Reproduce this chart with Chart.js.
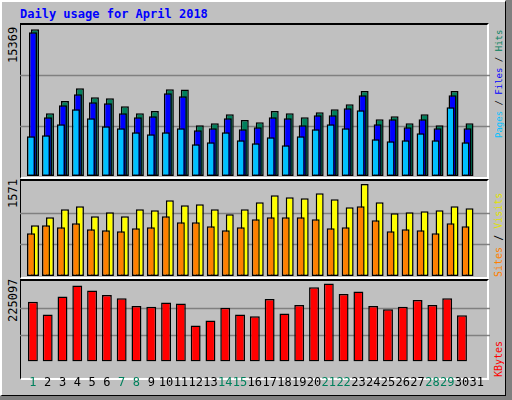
<!DOCTYPE html>
<html><head><meta charset="utf-8">
<script src="https://cdn.jsdelivr.net/npm/chart.js@4"></script>
<style>
html,body{margin:0;padding:0;}
body{width:512px;height:400px;background:#808080;position:relative;overflow:hidden;font-family:"DejaVu Sans Mono",monospace;}
#bg{position:absolute;left:0;top:0;width:503px;height:393px;background:#C0C0C0;border-left:2px solid #fff;border-top:2px solid #fff;border-right:1px solid #000;border-bottom:1px solid #000;}
.frame{position:absolute;left:20px;width:469px;border-top:2px solid #000;border-left:1px solid #000;border-right:2px solid #fff;border-bottom:2px solid #fff;box-sizing:border-box;}
.cv{position:absolute;left:20px;width:470px;}
.rot{position:absolute;transform-origin:0 0;transform:rotate(-90deg);white-space:nowrap;font-size:12px;line-height:12px;}
#title{position:absolute;left:20px;top:7px;color:#0000FF;font-weight:bold;font-size:12px;}
</style></head><body>
<div id="bg"></div>
<div id="title">Daily usage for April 2018</div>
<div class="frame" style="top:23px;height:156px"></div>
<div class="frame" style="top:179px;height:100px"></div>
<div class="frame" style="top:279px;height:101px"></div>
<div class="cv" style="top:25px;height:151px"><canvas id="c1"></canvas></div>
<div class="cv" style="top:181px;height:95px"><canvas id="c2"></canvas></div>
<div class="cv" style="top:281px;height:119px"><canvas id="c3"></canvas></div>
<div class="rot" style="left:7px;top:63px;color:#000">15369</div>
<div class="rot" style="left:7px;top:208px;color:#000">1571</div>
<div class="rot" style="left:7px;top:322px;color:#000">225097</div>
<div class="rot" style="left:494px;top:138px;font-size:9px;line-height:10px"><span style="color:#00C0FF">Pages</span> / <span style="color:#0000FF">Files</span> / <span style="color:#00805C">Hits</span></div>
<div class="rot" style="left:494px;top:277px;font-size:10px;line-height:10px"><span style="color:#FF8000">Sites</span> / <span style="color:#E0E000">Visits</span></div>
<div class="rot" style="left:494px;top:377px;font-size:10px;line-height:10px"><span style="color:#FF0000">KBytes</span></div>
<script>
const days = Array.from({length:31},(_,i)=>String(i+1));
const weekend = ["1","7","8","14","15","21","22","28","29"];
const hits  = [15369,6565,7857,9184,8241,8136,7298,6565,6809,9079,9050,5308,5517,6460,5866,5622,6809,6565,6146,6670,6984,7508,8905,5936,6251,5517,6460,5308,8905,5517,0];
const files = [15051,6146,7403,8555,7717,7613,6565,6146,6251,8660,8346,4784,4994,6041,4889,5098,6146,6041,5308,6355,6355,7089,8451,5413,5936,5098,5936,4994,8451,4994,0];
const pages = [4155,4260,5413,6984,6041,5203,4994,4575,4365,4575,4994,3317,3527,4575,3736,3422,4051,3213,4155,4889,5413,4994,6879,3841,3632,3736,4470,3736,7194,3527,0];
const visits= [865,1002,1138,1190,1019,1087,1019,1138,1121,1292,1207,1224,1138,1053,1138,1258,1377,1343,1326,1412,1309,1173,1571,1258,1070,1087,1104,1121,1190,1155,0];
const sites = [729,865,831,899,797,780,763,814,831,1019,916,916,848,780,831,968,1002,1002,1002,968,814,831,1190,951,763,797,780,729,899,848,0];
const kbytes= [172700,135900,187400,219400,204600,192300,182500,160400,158000,170200,167800,103900,118700,155500,135900,131000,180100,138300,162900,214400,225097,194800,202200,160400,150600,158000,177600,162900,182500,133400,0];

const gridPlugin = {
  id:'fullgrid',
  beforeDatasetsDraw(chart){
    const y = chart.scales.y, ctx = chart.ctx;
    ctx.save(); ctx.strokeStyle='#808080'; ctx.lineWidth=1.5;
    y.ticks.forEach(t=>{ if(t.value<=0||t.value>=y.max) return;
      const py = Math.round(y.getPixelForValue(t.value))+0.5;
      ctx.beginPath(); ctx.moveTo(0,py); ctx.lineTo(chart.width,py); ctx.stroke(); });
    ctx.restore();
  }
};
function mk(id, datasets, max, cat, bar, showX){
  const n = datasets.length;
  return new Chart(document.getElementById(id),{
    type:'bar',
    data:{labels:days, datasets:datasets.map((d,i)=>Object.assign({borderColor:'#000',borderWidth:1.5,borderSkipped:false,categoryPercentage:cat,barPercentage:bar,order:n-i},d))},
    plugins:[gridPlugin],
    options:{responsive:true,maintainAspectRatio:false,animation:false,
      layout:{padding:{left:5.5,right:0,top:0,bottom:showX?4:0}},
      plugins:{legend:{display:false},tooltip:{enabled:false}},
      scales:{
        x:{display:showX,grid:{display:false},border:{display:false},
           ticks:{autoSkip:false,maxRotation:0,padding:6,font:{family:'DejaVu Sans Mono',size:12},
             color:(c)=>weekend.includes(days[c.index])?'#00805C':'#000'}},
        y:{display:false,min:0,max:max,afterBuildTicks:(s)=>{s.ticks=[{value:0},{value:max/3},{value:2*max/3}];}}
      }}
  });
}
mk('c1',[{data:hits,backgroundColor:'#00805C'},{data:files,backgroundColor:'#0000FF'},{data:pages,backgroundColor:'#00C0FF'}],15819,0.4,4,false);
mk('c2',[{data:visits,backgroundColor:'#FFFF00'},{data:sites,backgroundColor:'#FF8000'}],1622,0.533,2,false);
mk('c3',[{data:kbytes,backgroundColor:'#FF0000'}],232300,0.67,1,true);
</script>
</body></html>
